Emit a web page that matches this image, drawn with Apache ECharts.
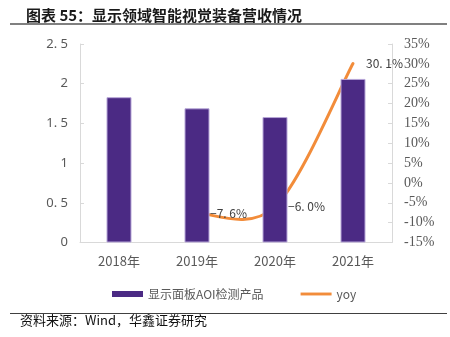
<!DOCTYPE html>
<html>
<head>
<meta charset="utf-8">
<script src="https://cdn.jsdelivr.net/npm/echarts@6/dist/echarts.min.js"></script>
<style>
  html, body { margin: 0; padding: 0; background: #fff; }
  #chart { width: 450px; height: 337px; }
</style>
</head>
<body>
<div id="chart"></div>
<script>
// Display-panel AOI inspection revenue (bn CNY) and year-on-year growth
const years = ['2018年', '2019年', '2020年', '2021年'];
const revenue = [1.83, 1.69, 1.58, 2.06];
const yoy = [null, -7.6, -6.0, 30.1];
const leftTicks = [0, 0.5, 1, 1.5, 2, 2.5];
const rightTicks = [-15, -10, -5, 0, 5, 10, 15, 20, 25, 30, 35];

const cjk = '"Noto Sans CJK SC", "Noto Sans", sans-serif';
const axisGray = '#D9D9D9';
const barColor = '#4B2A84';
const lineColor = '#F28C3A';

// points of the growth line that carry a value: [categoryIndex, value]
const yoyPoints = yoy.map((v, i) => [i, v]).filter(p => p[1] != null);

const fmtPct = v => v.toFixed(1).replace('-', '\u2212').replace('.', '. ') + '%';

// Cardinal-spline segment (tension 1/6) ending at yoyPoints[j]
function renderYoy(params, api) {
  const j = params.dataIndex;
  const P = k => api.coord(yoyPoints[Math.max(0, Math.min(yoyPoints.length - 1, k))]);
  const p1 = P(j);
  const children = [];
  if (j > 0) {
    const p0 = P(j - 1), pPrev = P(j - 2), pNext = P(j + 1);
    children.push({
      type: 'bezierCurve',
      shape: {
        x1: p0[0], y1: p0[1],
        cpx1: p0[0] + (p1[0] - pPrev[0]) / 6, cpy1: p0[1] + (p1[1] - pPrev[1]) / 6,
        cpx2: p1[0] - (pNext[0] - p0[0]) / 6, cpy2: p1[1] - (pNext[1] - p0[1]) / 6,
        x2: p1[0], y2: p1[1]
      },
      style: { stroke: lineColor, lineWidth: 3, fill: null, lineCap: 'round' }
    });
  }
  children.push({
    type: 'text',
    x: p1[0] + 13, y: p1[1],
    z2: 10,
    style: {
      text: fmtPct(yoyPoints[j][1]),
      fill: '#404040', fontSize: 12, fontFamily: cjk,
      verticalAlign: 'middle', align: 'left'
    }
  });
  return { type: 'group', children };
}

const chart = echarts.init(document.getElementById('chart'), null, { renderer: 'canvas' });

chart.setOption({
  animation: false,
  backgroundColor: '#fff',
  grid: { left: 80, right: 58, top: 44, bottom: 94.5, containLabel: false },
  title: {
    text: '图表 55：显示领域智能视觉装备营收情况',
    left: 21, top: 3,
    textStyle: { fontFamily: cjk, fontSize: 15, fontWeight: 'bold', color: '#1a1a1a' }
  },
  graphic: [
    { type: 'line', shape: { x1: 10, y1: 24, x2: 447, y2: 24 }, style: { stroke: '#808080', lineWidth: 2 } },
    { type: 'line', shape: { x1: 10, y1: 313.5, x2: 447, y2: 313.5 }, style: { stroke: '#404040', lineWidth: 1 } },
    { type: 'text', left: 20, top: 314,
      style: { text: '资料来源：Wind，华鑫证券研究', fontFamily: cjk, fontSize: 13, fill: '#111' } }
  ],
  legend: {
    left: 107, top: 283,
    itemGap: 37,
    itemWidth: 31, itemHeight: 6,
    textStyle: { fontFamily: cjk, fontSize: 12, color: '#595959' },
    data: [
      { name: '显示面板AOI检测产品', icon: 'rect', itemStyle: { color: barColor, borderWidth: 0 } },
      { name: 'yoy', icon: 'path://M0,0H32V3H0Z', itemStyle: { color: lineColor } }
    ]
  },
  xAxis: {
    type: 'category',
    data: years,
    axisLine: { lineStyle: { color: axisGray } },
    axisTick: { show: false },
    axisLabel: { fontFamily: cjk, fontSize: 13, color: '#595959', margin: 12 }
  },
  yAxis: [
    {
      type: 'value', min: leftTicks[0], max: leftTicks[leftTicks.length - 1], interval: 0.5,
      axisLine: { show: true, lineStyle: { color: axisGray } },
      axisTick: { show: true, inside: true, length: 4, lineStyle: { color: axisGray } },
      splitLine: { show: false },
      axisLabel: { fontFamily: '"Noto Sans", sans-serif', fontSize: 13, color: '#595959', margin: 12,
        formatter: v => String(v).replace('.', '. ') }
    },
    {
      type: 'value', min: rightTicks[0], max: rightTicks[rightTicks.length - 1], interval: 5,
      axisLine: { show: true, lineStyle: { color: axisGray } },
      axisTick: { show: true, inside: true, length: 4, lineStyle: { color: axisGray } },
      splitLine: { show: false },
      axisLabel: { fontFamily: '"Liberation Serif", serif', fontSize: 14, color: '#595959', margin: 12,
        formatter: v => v + '%' }
    }
  ],
  series: [
    {
      name: '显示面板AOI检测产品',
      type: 'bar',
      data: revenue,
      barWidth: 25,
      itemStyle: { color: barColor, borderColor: '#B7A6D8', borderWidth: 1 }
    },
    {
      name: 'yoy',
      type: 'custom',
      yAxisIndex: 1,
      data: yoyPoints,
      encode: { x: 0, y: 1 },
      itemStyle: { color: lineColor },
      clip: false,
      renderItem: renderYoy
    }
  ]
});
</script>
</body>
</html>
